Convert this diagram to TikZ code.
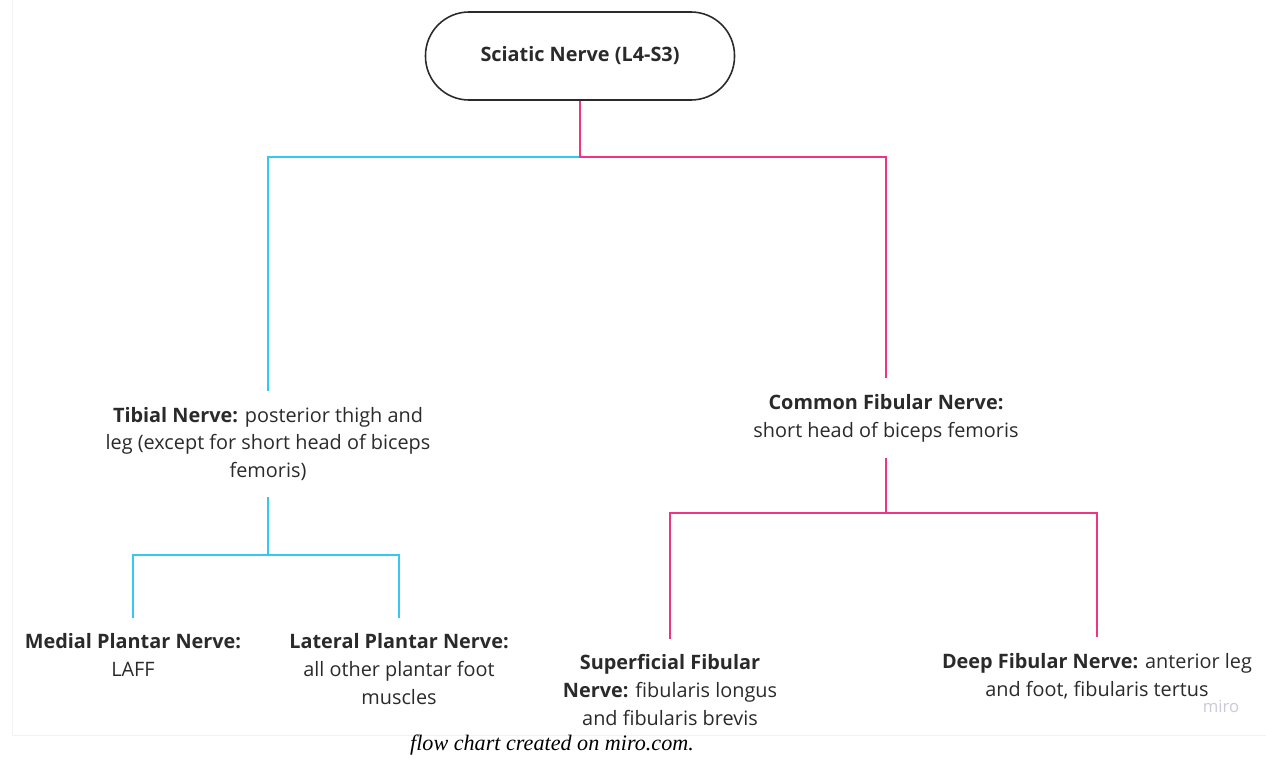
\documentclass[tikz,border=0pt]{standalone}
\usepackage{fontspec}
\setmainfont{Open Sans}
\newfontfamily\capfont{Liberation Serif}
\usetikzlibrary{positioning}
\definecolor{tibblue}{HTML}{36C8F2}
\definecolor{fibpink}{HTML}{EE3482}
\definecolor{inkgray}{HTML}{2A2A2A}
\definecolor{mirogray}{HTML}{C9C9D9}

\begin{document}
\begin{tikzpicture}[x=0.2mm,y=-0.2mm,line width=1.1pt,
  nerve/.style={align=center,inner sep=3mm,text=inkgray,font=\fontsize{11.3}{15.8}\selectfont},
  root/.style={draw=inkgray,line width=.9pt,rounded corners=8.7mm,minimum width=61.8mm,minimum height=17.6mm,text=inkgray,font=\fontsize{11.3}{14}\selectfont\bfseries},
  blueline/.style={draw=tibblue},
  pinkline/.style={draw=fibpink}]
\path[use as bounding box] (0,0) rectangle (1266,757);
\draw[black!5,line width=.4pt] (12,0) -- (12,735) -- (1266,735);
\node[root] (sciatic) at (580,56) {Sciatic Nerve (L4-S3)};
\node[nerve] (tibial) at (268,444) {\textbf{Tibial Nerve:} posterior thigh and\\leg (except for short head of biceps\\femoris)};
\node[nerve] (common) at (886,418) {\textbf{Common Fibular Nerve:}\\short head of biceps femoris};
\node[nerve] (medial) at (133,655) {\textbf{Medial Plantar Nerve:}\\LAFF};
\node[nerve] (lateral) at (399,669) {\textbf{Lateral Plantar Nerve:}\\all other plantar foot\\muscles};
\node[nerve] (superficial) at (670,690) {\textbf{Superficial Fibular}\\\textbf{Nerve:} fibularis longus\\and fibularis brevis};
\node[nerve] (deep) at (1097,676) {\textbf{Deep Fibular Nerve:} anterior leg\\and foot, fibularis tertus};
\coordinate (sciaticsplit) at (580,157);
\coordinate (tibialsplit) at (268,555);
\coordinate (commonsplit) at (886,513);
\draw[blueline] (sciaticsplit) -| (tibial.north);
\draw[pinkline] (sciatic.south) -- (sciaticsplit) -| (common.north);
\draw[blueline] (tibial.south) -- (tibialsplit) -| (medial.north) (tibialsplit) -| (lateral.north);
\draw[pinkline] (common.south) -- (commonsplit) -| (superficial.north) (commonsplit) -| (deep.north);
\node[text=mirogray,inner sep=0pt,font=\fontsize{9.5}{11}\selectfont] (miro) at (1221,706) {miro};
\node[inner sep=0pt,font=\capfont\itshape\fontsize{12.6}{14}\selectfont] (caption) at (552,745) {flow chart created on miro.com.};
\end{tikzpicture}
\end{document}
